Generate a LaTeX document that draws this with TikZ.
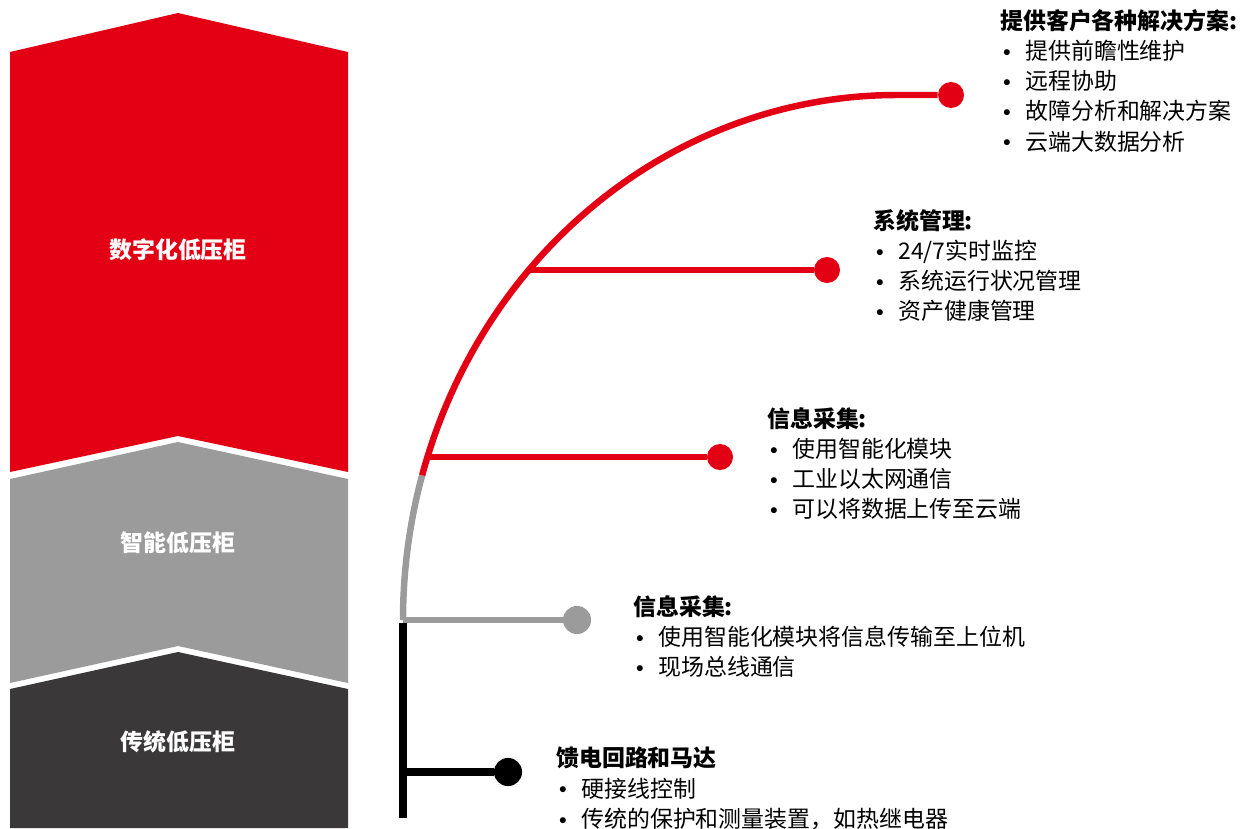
\documentclass[tikz,border=0pt]{standalone}
\usepackage{fontspec}
\setmainfont{Noto Sans CJK SC}
\usepackage{tikz}
\definecolor{cabred}{RGB}{228,0,20}
\definecolor{cabgray}{RGB}{155,155,155}
\definecolor{cabdark}{RGB}{58,56,56}
\pgfkeys{tikz/mytext/.style={anchor=north west, inner sep=0pt, align=left,
                                 font=\fontsize{16.3}{21.5}\selectfont}}
\pgfkeys{tikz/mylabel/.style={text=white, inner sep=0pt,
                                  font=\fontsize{16.3}{20}\selectfont\bfseries}}
\pgfkeys{tikz/mydot/.style={circle, inner sep=0pt, minimum size=18.5pt}}
\pgfkeys{tikz/myline/.style={line width=4.6pt}}
\newcommand{\bul}{\makebox[17.8pt][l]{\hspace{2pt}\raisebox{2.3pt}{\fontsize{11}{11}\selectfont$\bullet$}}}

\begin{document}
\begin{tikzpicture}[x=0.025cm, y=-0.025cm]
            \useasboundingbox (0,0) rectangle (1254,828);

            % the three cabinets
            \fill[cabred] (10,52) -- (178,13) -- (348,52) -- (348,472) -- (178,436) -- (10,472) -- cycle;
            \fill[cabgray] (10,479) -- (178,442) -- (348,479) -- (348,683) -- (178,646) -- (10,683) -- cycle;
            \fill[cabdark] (10,689) -- (178,652) -- (348,689) -- (348,828) -- (10,828) -- cycle;

            \node[mylabel] (c1) at (178,250) {数字化低压柜};
            \node[mylabel] (c2) at (178,543) {智能低压柜};
            \node[mylabel] (c3) at (178,742) {传统低压柜};

            % dots
            \node[mydot, fill=cabred] (d1) at (951,95) {};
            \node[mydot, fill=cabred] (d2) at (827,270) {};
            \node[mydot, fill=cabred] (d3) at (720,457) {};
            \node[mydot, fill=cabgray, minimum size=20pt] (d4) at (577,620) {};
            \node[mydot, fill=black, minimum size=20pt] (d5) at (508,772) {};

            \coordinate (j0) at (403,620);
            \coordinate (j1) at (427.4,457);
            \coordinate (j2) at (528.8,270);
            \coordinate (j3) at (403,772);
            \coordinate (bottom) at (403,818);

            % black part
            \draw[myline, black, line width=5pt] (403,623) -- (bottom);
            \draw[myline, black, line width=5pt] (j3) -- (d5);

            % gray part
            \draw[myline, cabgray] (j0) arc[start angle=180, end angle=196, x radius=494, y radius=525]
                coordinate (split);
            \draw[myline, cabgray] (j0) -- (d4);

            % red part
            \draw[myline, cabred] (split) arc[start angle=196, end angle=270, x radius=494, y radius=525] -- (d1);
            \draw[myline, cabred] (j1) -- (d3);
            \draw[myline, cabred] (j2) -- (d2);

            % texts
            \node[mytext] (t1) at (1000,9) {\textbf{提供客户各种解决方案:}\\
                \bul 提供前瞻性维护\\ \bul 远程协助\\ \bul 故障分析和解决方案\\ \bul 云端大数据分析};
            \node[mytext] (t2) at (873,209) {\textbf{系统管理:}\\
                \bul 24/7实时监控\\ \bul 系统运行状况管理\\ \bul 资产健康管理};
            \node[mytext] (t3) at (767,407) {\textbf{信息采集:}\\
                \bul 使用智能化模块\\ \bul 工业以太网通信\\ \bul 可以将数据上传至云端};
            \node[mytext] (t4) at (633,595) {\textbf{信息采集:}\\
                \bul 使用智能化模块将信息传输至上位机\\ \bul 现场总线通信};
            \node[mytext] (t5) at (556,747) {\textbf{馈电回路和马达}\\
                \bul 硬接线控制\\ \bul 传统的保护和测量装置，如热继电器};
\end{tikzpicture}
\end{document}
